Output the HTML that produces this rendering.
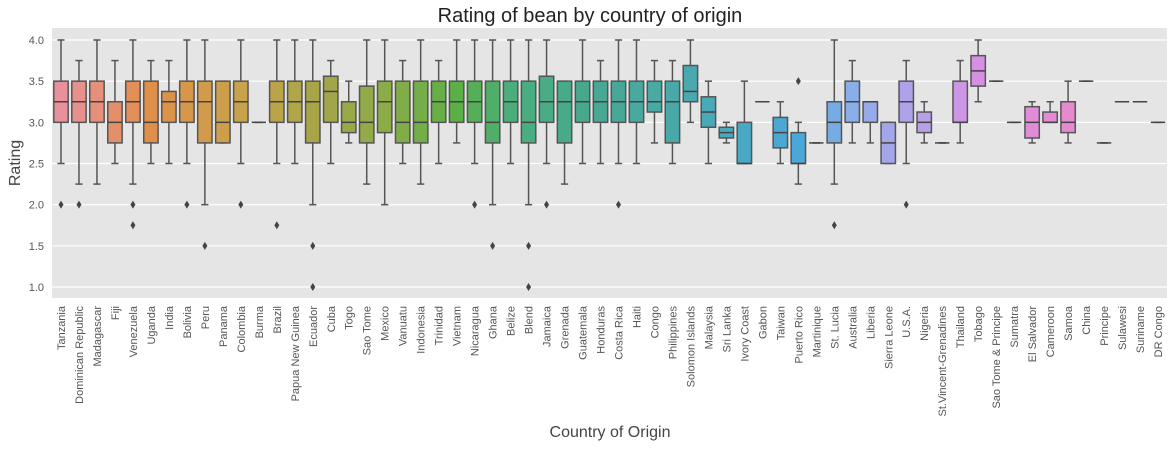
<!DOCTYPE html>
<html><head><meta charset="utf-8"><style>
body{margin:0;background:#fff;font-family:"Liberation Sans",sans-serif}
svg text{font-family:"Liberation Sans",sans-serif}
</style></head><body>
<svg id="chart" width="1174" height="446" xmlns="http://www.w3.org/2000/svg">
<rect x="52" y="28" width="1115" height="270" fill="#e5e5e5"/>
<g id="grid"></g>
<g id="yticks"></g>
<g id="boxes"></g>
<g id="xticks"></g>
<text x="590" y="22" text-anchor="middle" font-size="20" fill="#222">Rating of bean by country of origin</text>
<text transform="translate(20,163) rotate(-90)" text-anchor="middle" font-size="16" fill="#444">Rating</text>
<text x="610" y="437" text-anchor="middle" font-size="16" fill="#444">Country of Origin</text>
</svg>
<script>
const categories=["Tanzania","Dominican Republic","Madagascar","Fiji","Venezuela","Uganda","India","Bolivia","Peru","Panama","Colombia","Burma","Brazil","Papua New Guinea","Ecuador","Cuba","Togo","Sao Tome","Mexico","Vanuatu","Indonesia","Trinidad","Vietnam","Nicaragua","Ghana","Belize","Blend","Jamaica","Grenada","Guatemala","Honduras","Costa Rica","Haiti","Congo","Philippines","Solomon Islands","Malaysia","Sri Lanka","Ivory Coast","Gabon","Taiwan","Puerto Rico","Martinique","St. Lucia","Australia","Liberia","Sierra Leone","U.S.A.","Nigeria","St.Vincent-Grenadines","Thailand","Tobago","Sao Tome & Principe","Sumatra","El Salvador","Cameroon","Samoa","China","Principe","Sulawesi","Suriname","DR Congo"];
const whiskerLow=[2.5,2.25,2.25,2.5,2.25,2.5,2.5,2.5,2,2.75,2.5,3,2.5,2.5,2,2.5,2.75,2.25,2,2.5,2.25,2.5,2.75,2.5,2,2.5,2,2.5,2.25,2.5,2.5,2.5,2.5,2.75,2.5,3,2.5,2.75,2.5,3.25,2.5,2.25,2.75,2.25,2.75,2.75,2.5,2.5,2.75,2.75,2.75,3.25,3.5,3,2.75,3,2.75,3.5,2.75,3.25,3.25,3];
const q1=[3,3,3,2.75,3,2.75,3,3,2.75,2.75,3,3,3,3,2.75,3,2.875,2.75,2.875,2.75,2.75,3,3,3,2.75,3,2.75,3,2.75,3,3,3,3,3.125,2.75,3.25,2.94,2.81,2.5,3.25,2.69,2.5,2.75,2.75,3,3,2.5,3,2.875,2.75,3,3.44,3.5,3,2.81,3,2.875,3.5,2.75,3.25,3.25,3];
const medians=[3.25,3.25,3.25,3,3.25,3,3.25,3.25,3.25,3,3.25,3,3.25,3.25,3.25,3.375,3,3,3.25,3,3,3.25,3.25,3.25,3,3.25,3,3.25,3.25,3.25,3.25,3.25,3.25,3.25,3.25,3.375,3.125,2.875,2.5,3.25,2.875,2.5,2.75,3,3.25,3.25,2.75,3.25,3,2.75,3,3.625,3.5,3,3,3,3,3.5,2.75,3.25,3.25,3];
const q3=[3.5,3.5,3.5,3.25,3.5,3.5,3.375,3.5,3.5,3.5,3.5,3,3.5,3.5,3.5,3.56,3.25,3.44,3.5,3.5,3.5,3.5,3.5,3.5,3.5,3.5,3.5,3.56,3.5,3.5,3.5,3.5,3.5,3.5,3.5,3.69,3.31,2.94,3,3.25,3.06,2.875,2.75,3.25,3.5,3.25,3,3.5,3.125,2.75,3.5,3.81,3.5,3,3.19,3.125,3.25,3.5,2.75,3.25,3.25,3];
const whiskerHigh=[4,3.75,4,3.75,4,3.75,3.75,4,4,3.5,4,3,4,4,4,3.75,3.5,4,4,3.75,4,3.75,4,4,4,4,4,4,3.5,4,3.75,4,4,3.75,3.75,4,3.5,3,3.5,3.25,3.25,3,2.75,4,3.75,3.25,3,3.75,3.25,2.75,3.75,4,3.5,3,3.25,3.25,3.5,3.5,2.75,3.25,3.25,3];
const outliers=[[2],[2],[],[],[2,1.75],[],[],[2],[1.5],[],[2],[],[1.75],[],[1.5,1],[],[],[],[],[],[],[],[],[2],[1.5],[],[1.5,1],[2],[],[],[],[2],[],[],[],[],[],[],[],[],[],[3.5],[],[1.75],[],[],[],[2],[],[],[],[],[],[],[],[],[],[],[],[],[],[]];
const yTicks=[1.0,1.5,2.0,2.5,3.0,3.5,4.0];
const NS="http://www.w3.org/2000/svg";
const x0=52,x1=1167,bw=(x1-x0)/categories.length;
const xPos=i=>x0+(i+0.5)*bw;
const yPos=v=>287-(v-1)*(247/3);
function mk(tag,at,parent){const e=document.createElementNS(NS,tag);for(const k in at)e.setAttribute(k,at[k]);parent.appendChild(e);return e;}
const anchors=[[0,[232,145,155]],[5,[224,143,74]],[10,[201,163,75]],[14,[168,165,72]],[18,[140,172,72]],[22,[90,175,71]],[25,[74,175,122]],[29,[72,168,142]],[34,[73,169,168]],[37,[72,169,190]],[41,[74,168,216]],[44,[138,174,232]],[47,[176,162,234]],[51,[213,144,227]],[55,[229,139,214]],[58,[230,137,194]],[61,[231,140,169]]];
function col(i){for(let k=0;k<anchors.length-1;k++){const[a,ca]=anchors[k],[b,cb]=anchors[k+1];if(i>=a&&i<=b){const t=(i-a)/(b-a);return "rgb("+ca.map((c,j)=>Math.round(c+(cb[j]-c)*t)).join(",")+")";}}return "rgb(231,140,169)";}
const grid=document.getElementById('grid'),yt=document.getElementById('yticks'),bx=document.getElementById('boxes'),xt=document.getElementById('xticks');
yTicks.forEach(v=>{
  const l=mk('line',{x1:x0,x2:x1,y1:yPos(v),y2:yPos(v),stroke:'#fff','stroke-width':1.2},grid);
  
  
  const t=mk('text',{x:44,y:yPos(v)+4,'text-anchor':'end','font-size':11,fill:'#555'},yt);
  t.textContent=v.toFixed(1);
  
  
});
const stroke='#555';
categories.forEach((c,i)=>{
  const cx=xPos(i),w=bw*0.8,g=mk('g',{},bx);
  
  
  mk('line',{x1:cx,x2:cx,y1:yPos(whiskerHigh[i]),y2:yPos(q3[i]),stroke:stroke,'stroke-width':1.5},g);
  mk('line',{x1:cx,x2:cx,y1:yPos(q1[i]),y2:yPos(whiskerLow[i]),stroke:stroke,'stroke-width':1.5},g);
  mk('line',{x1:cx-w/4,x2:cx+w/4,y1:yPos(whiskerHigh[i]),y2:yPos(whiskerHigh[i]),stroke:stroke,'stroke-width':1.5},g);
  mk('line',{x1:cx-w/4,x2:cx+w/4,y1:yPos(whiskerLow[i]),y2:yPos(whiskerLow[i]),stroke:stroke,'stroke-width':1.5},g);
  mk('rect',{x:cx-w/2,y:yPos(q3[i]),width:w,height:Math.max(0,yPos(q1[i])-yPos(q3[i])),fill:col(i),stroke:stroke,'stroke-width':1.5},g);
  mk('line',{x1:cx-w/2,x2:cx+w/2,y1:yPos(medians[i]),y2:yPos(medians[i]),stroke:'#444','stroke-width':1.5},g);
  outliers[i].forEach(o=>{const d=mk('path',{d:`M${cx} ${yPos(o)-4}L${cx+2.5} ${yPos(o)}L${cx} ${yPos(o)+4}L${cx-2.5} ${yPos(o)}Z`,fill:'#444'},g);
    
    });
  const t=mk('text',{transform:`translate(${cx+4},306) rotate(-90)`,'text-anchor':'end','font-size':11,fill:'#555'},xt);
  t.textContent=c;
  
  
});
</script>
</body></html>
